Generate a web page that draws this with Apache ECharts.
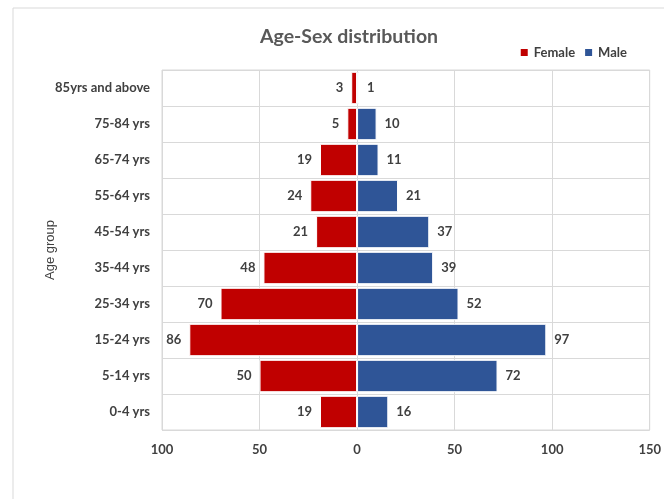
<!DOCTYPE html>
<html>
<head>
<meta charset="utf-8">
<script src="https://cdn.jsdelivr.net/npm/echarts@6/dist/echarts.min.js"></script>
<style>html,body{margin:0;padding:0;background:#fff}#c{width:664px;height:499px}</style>
</head>
<body>
<div id="c"></div>
<script>
const categories = ['0-4 yrs','5-14 yrs','15-24 yrs','25-34 yrs','35-44 yrs','45-54 yrs','55-64 yrs','65-74 yrs','75-84 yrs','85yrs and above'];
const female = [19,50,86,70,48,21,24,19,5,3];
const male = [16,72,97,52,39,37,21,11,10,1];
const xTicks = [-100,-50,0,50,100,150];
const yAxisName = 'Age group';

const FONT = 'Lato, "Open Sans", sans-serif';
const chart = echarts.init(document.getElementById('c'));
chart.setOption({
  animation: false,
  textStyle: {fontFamily: FONT},
  graphic: [
    {type:'rect', shape:{x:13,y:8,width:660,height:500}, style:{fill:'none', stroke:'#d9d9d9', lineWidth:1}, silent:true},
    {type:'text', x:50, y:250, rotation:Math.PI/2, silent:true,
      style:{text:yAxisName, fontSize:13, fill:'#404040', fontFamily:'"Liberation Sans", Arial, sans-serif', align:'center', verticalAlign:'middle'}}
  ],
  title: {text:'Age-Sex distribution', left:255, top:22, textStyle:{fontSize:19.5, fontWeight:'bold', color:'#595959', fontFamily:FONT}},
  legend: {right:32, top:41, itemWidth:9, itemHeight:9, itemGap:8, icon:'rect',
    textStyle:{fontSize:13, fontWeight:'bold', color:'#404040', fontFamily:FONT},
    data:['Female','Male']},
  grid: {left:162, right:14, top:70, bottom:69, show:true, borderColor:'#d9d9d9', borderWidth:1},
  xAxis: {type:'value', min:xTicks[0], max:xTicks[xTicks.length-1], interval:50,
    axisLine:{show:false}, axisTick:{show:false},
    splitLine:{show:true, lineStyle:{color:'#d9d9d9', width:1}},
    axisLabel:{formatter:v=>Math.abs(v), fontSize:13, fontWeight:'bold', color:'#404040', margin:13}},
  yAxis: {type:'category', data:categories,
    axisLine:{show:false}, axisTick:{show:false},
    splitLine:{show:true, interval:0, lineStyle:{color:'#d9d9d9', width:1}},
    axisLabel:{fontSize:13, fontWeight:'bold', color:'#404040', margin:12}},
  series: [
    {name:'Female', type:'bar', stack:'p', data:female.map(v=>-v), barCategoryGap:'10%',
      itemStyle:{color:'#C00000', borderColor:'#fff', borderWidth:1},
      label:{show:true, position:'left', distance:8, formatter:p=>Math.abs(p.value), fontSize:13, fontWeight:'bold', color:'#404040'}},
    {name:'Male', type:'bar', stack:'p', data:male, barCategoryGap:'10%',
      itemStyle:{color:'#2F5597', borderColor:'#fff', borderWidth:1},
      label:{show:true, position:'right', distance:8, fontSize:13, fontWeight:'bold', color:'#404040'}}
  ]
});
</script>
</body>
</html>
